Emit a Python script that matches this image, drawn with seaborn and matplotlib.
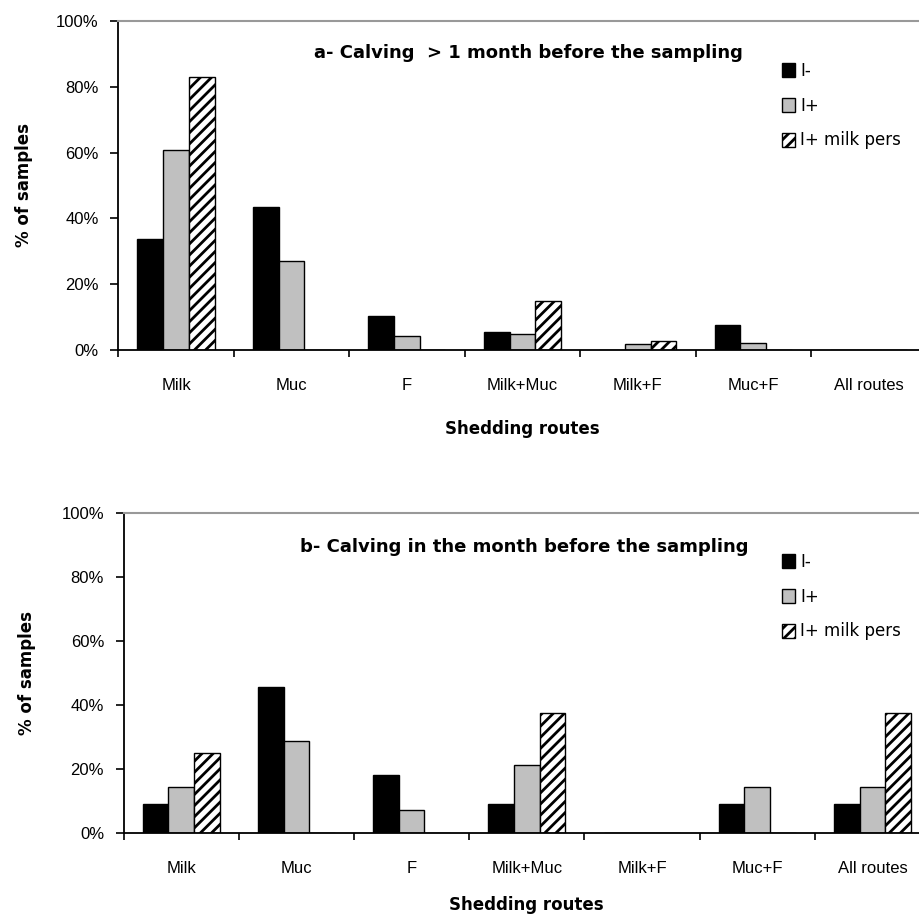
import matplotlib
matplotlib.use("Agg")
import matplotlib.pyplot as plt
import pandas as pd
import seaborn as sns

# ---------------------------- DATA ------------------------------------

ROUTES = ["Milk", "Muc", "F", "Milk+Muc", "Milk+F", "Muc+F", "All routes"]
GROUPS = ["I-", "I+", "I+ milk pers"]

# a- Calving > 1 month before the sampling (% of samples)
A_I_NEG = [33.8, 43.4, 10.3, 5.5, 0.0, 7.6, 0.0]
A_I_POS = [60.7, 27.0, 4.3, 4.8, 1.8, 2.2, 0.0]
A_I_PERS = [82.9, 0.0, 0.0, 14.8, 2.7, 0.0, 0.0]

# b- Calving in the month before the sampling (% of samples)
B_I_NEG = [9.1, 45.5, 18.2, 9.1, 0.0, 9.1, 9.1]
B_I_POS = [14.3, 28.6, 7.1, 21.4, 0.0, 14.3, 14.3]
B_I_PERS = [25.0, 0.0, 0.0, 37.5, 0.0, 0.0, 37.5]

TITLES = [
    "a- Calving  > 1 month before the sampling",
    "b- Calving in the month before the sampling",
]
YTICKS = [0, 20, 40, 60, 80, 100]
COLORS = ["black", "#c0c0c0", "white"]

# ---------------------------- HELPERS ---------------------------------


def to_long(neg, pos, pers):
    rows = []
    for grp, vals in zip(GROUPS, [neg, pos, pers]):
        for route, v in zip(ROUTES, vals):
            rows.append({"route": route, "group": grp, "pct": v})
    return pd.DataFrame(rows)


def draw_panel(ax, df, title, title_xy, legend_xy):
    sns.barplot(
        data=df, x="route", y="pct", hue="group", order=ROUTES,
        hue_order=GROUPS, palette=COLORS, width=0.667, errorbar=None,
        edgecolor="black", linewidth=1.0, saturation=1, legend=False, ax=ax,
    )
    for bar in ax.containers[2]:
        bar.set_hatch("///")

    ax.set_xlim(-0.5, len(ROUTES) - 0.5)
    ax.set_ylim(0, 100)
    ax.set_yticks(YTICKS, [f"{t}%" for t in YTICKS],
                  fontfamily="Liberation Sans", fontsize=12)
    ax.set_xticks(range(len(ROUTES)), ROUTES,
                  fontfamily=["Liberation Sans Narrow", "Liberation Sans"],
                  fontsize=12)
    ax.tick_params(axis="x", which="major", bottom=False, length=0, pad=20)
    # category separators below the axis
    ax.set_xticks([i - 0.5 for i in range(len(ROUTES) + 1)], minor=True)
    ax.tick_params(axis="x", which="minor", bottom=True, length=5, width=1.2,
                   direction="out", color="black")
    ax.tick_params(axis="y", left=True, length=6, width=1.2, direction="out",
                   pad=8, color="black", labelcolor="black")

    for s in ["left", "bottom"]:
        ax.spines[s].set_color("black")
        ax.spines[s].set_linewidth(1.3)
    ax.spines["right"].set_visible(False)
    ax.spines["top"].set_color("#999999")
    ax.spines["top"].set_linewidth(1.5)

    ax.set_xlabel("Shedding routes", fontsize=12, fontweight="bold")
    ax.set_ylabel("% of samples", fontsize=12, fontweight="bold")

    fig = ax.figure
    fig.text(title_xy[0] / 919, 1 - title_xy[1] / 924, title,
             ha="center", va="center", fontsize=13, fontweight="bold")

    handles = [c.patches[0] for c in ax.containers]
    leg = ax.legend(
        handles, GROUPS, loc="upper left", frameon=False,
        bbox_to_anchor=(legend_xy[0] / 919, 1 - legend_xy[1] / 924),
        bbox_transform=fig.transFigure, fontsize=12, handlelength=0.8,
        handleheight=0.9, handletextpad=0.3, labelspacing=1.0, borderpad=0,
        borderaxespad=0,
    )
    for h in leg.legend_handles:
        h.set_edgecolor("black")


# ------------------------------ MAIN ----------------------------------


def main():
    sns.set_style("white")
    plt.rcParams["font.family"] = ["DejaVu Sans"]
    plt.rcParams["hatch.linewidth"] = 2.0
    plt.rcParams["text.color"] = "black"
    plt.rcParams["axes.labelcolor"] = "black"
    plt.rcParams["xtick.color"] = "black"
    plt.rcParams["ytick.color"] = "black"

    fig = plt.figure(figsize=(9.19, 9.24), dpi=100)
    ax_a = fig.add_axes([0.1287, 0.6212, 0.8794, 0.3561])
    ax_b = fig.add_axes([0.1344, 0.0985, 0.8776, 0.3463])

    draw_panel(ax_a, to_long(A_I_NEG, A_I_POS, A_I_PERS), TITLES[0],
               (528, 53), (782, 62))
    ax_a.xaxis.set_label_coords(0.5, -0.213)
    ax_a.yaxis.set_label_coords(-0.105, 0.5)

    draw_panel(ax_b, to_long(B_I_NEG, B_I_POS, B_I_PERS), TITLES[1],
               (524, 547), (782, 553))
    ax_b.xaxis.set_label_coords(0.5, -0.197)
    ax_b.yaxis.set_label_coords(-0.108, 0.5)

    fig.savefig("out.png", dpi=100)


if __name__ == "__main__":
    main()
